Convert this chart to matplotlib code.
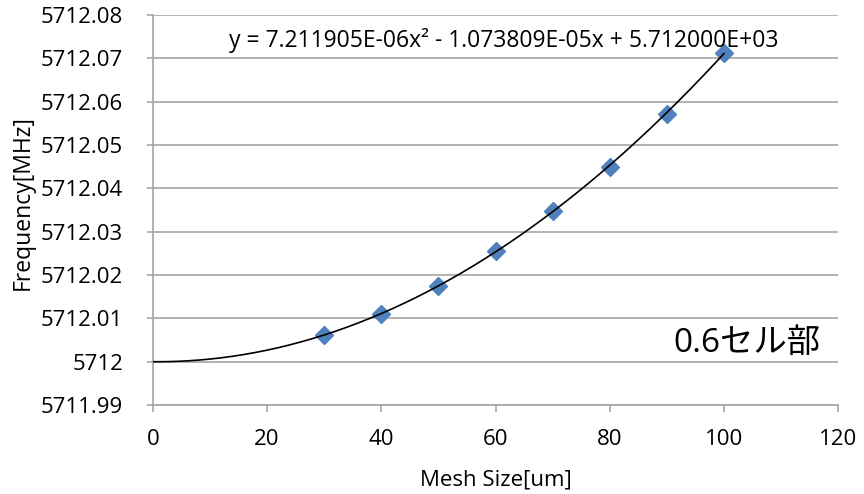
import numpy as np
import matplotlib
matplotlib.use("Agg")
from matplotlib import pyplot as plt

# data
mesh_size = [30, 40, 50, 60, 70, 80, 90, 100]
frequency = [5712.0062, 5712.0110, 5712.0175, 5712.0256, 5712.0348, 5712.0448, 5712.0572, 5712.0713]

# trendline coefficients printed on the chart
fit_a = 7.211905e-06
fit_b = -1.073809e-05
fit_c = 5.712000e+03

x_ticks = [0, 20, 40, 60, 80, 100, 120]
y_ticks = [5711.99, 5712.00, 5712.01, 5712.02, 5712.03, 5712.04, 5712.05, 5712.06, 5712.07, 5712.08]
y_ticklabels = ['5711.99', '5712', '5712.01', '5712.02', '5712.03', '5712.04',
                '5712.05', '5712.06', '5712.07', '5712.08']

plt.rcParams['font.family'] = ['Open Sans', 'Noto Sans CJK JP', 'DejaVu Sans']

fig = plt.figure(figsize=(8.64, 4.94), dpi=100)
ax = fig.add_axes([0.177, 0.18, 0.793, 0.79])

grid_col = '#a6a6a6'
for yv in y_ticks:
	ax.axhline(yv, color=grid_col, lw=1.2, zorder=1)

xs = np.linspace(0, 100, 300)
ax.plot(xs, fit_a * xs**2 + fit_b * xs + fit_c, color='black', lw=1.2, zorder=3)
ax.plot(mesh_size, frequency, linestyle='none', marker='D', markersize=9,
        color='#4f81bd', zorder=2)

ax.set_xlim(0, 120)
ax.set_ylim(5711.99, 5712.08)
ax.set_xticks(x_ticks)
ax.set_yticks(y_ticks)
ax.set_yticklabels(y_ticklabels)
ax.tick_params(axis='both', labelsize=16, colors=grid_col, labelcolor='black', width=1.2)
ax.tick_params(axis='y', length=4.5, pad=17)
ax.tick_params(axis='x', length=5, pad=12)

for side in ['top', 'right']:
	ax.spines[side].set_visible(False)
for side in ['left', 'bottom']:
	ax.spines[side].set_color(grid_col)
	ax.spines[side].set_linewidth(1.2)

ax.set_xlabel('Mesh Size[um]', fontsize=16, va='center')
ax.xaxis.set_label_coords(0.5, -0.192)
ax.set_ylabel('Frequency[MHz]', fontsize=16.5, va='center')
ax.yaxis.set_label_coords(-0.19, 0.52)

ax.text(0.512, 0.935, 'y = 7.211905E-06x² - 1.073809E-05x + 5.712000E+03',
        transform=ax.transAxes, ha='center', va='center', fontsize=16.5)
ax.text(0.974, 0.159, '0.6セル部', transform=ax.transAxes, ha='right', va='center',
        fontsize=24, family=['Open Sans', 'Noto Sans CJK JP'])

fig.savefig('out.png', dpi=100)
